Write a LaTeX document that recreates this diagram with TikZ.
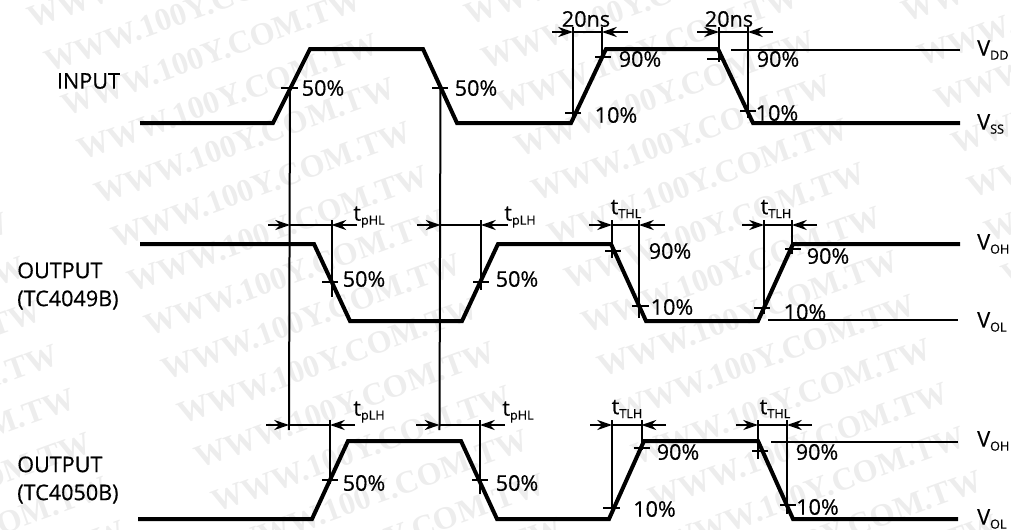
\documentclass[tikz,border=0pt]{standalone}
\usepackage{fontspec}
\setmainfont{Open Sans}[FakeBold=0.5]
\newfontfamily\markfont{Liberation Serif}
\usetikzlibrary{arrows.meta}
\newcommand\se[1]{\raisebox{-3pt}{\fontsize{9.5}{10}\selectfont #1}}
\tikzset{
  wave/.style={line width=3pt, line join=miter},
  thinline/.style={line width=1.5pt},
  drop/.style={line width=1.5pt, shorten <=-3.75pt},
  dimarrow/.style={line width=1.5pt, -{Stealth[length=11pt,width=7.5pt,inset=3.5pt]}},
  tickmark/.style={fill=black, inner sep=0pt, minimum width=12.5pt, minimum height=1.5pt},
  lab/.style={inner sep=0pt, font=\fontsize{16.2}{21}\selectfont, align=left},
  stamp/.style={inner sep=0pt, rotate=20, text=black!7, font=\markfont\bfseries\fontsize{24}{24}\selectfont}
}
\begin{document}
\begin{tikzpicture}[x=0.75pt, y=-0.75pt]
\useasboundingbox (0,0) rectangle (1011,529);
\clip (0,0) rectangle (1011,529);
\foreach \i in {-8,...,13}
  \foreach \j in {-1,...,2}
    \node[stamp] (s\i\j) at ({228+\i*16.7+\j*420},{97+\i*44-\j*47}) {WWW.100Y.COM.TW};

\draw [wave] (140,123) -- (273,123) -- (310,49) -- (423,49) -- (457,123) -- (571,123) -- (606,49) -- (718,49) -- (753,123) -- (960,123);
\draw [wave] (140,244) -- (314,244) -- (350,321) -- (462,321) -- (498,244) -- (611,244) -- (646,321) -- (758,321) -- (793,244) -- (960,244);
\draw [wave] (138,519) -- (312,519) -- (348,441) -- (461,441) -- (497,519) -- (609,519) -- (644,441) -- (758,441) -- (793,519) -- (958,519);

\path (731,50) coordinate (vdd1) (960,50) coordinate (vdd2);
\path (768,320) coordinate (vol1) (958,320) coordinate (vol2);
\path (771,442) coordinate (voh1) (958,442) coordinate (voh2);
\draw [thinline] (vdd1) -- (vdd2);
\draw [thinline] (vol1) -- (vol2);
\draw [thinline] (voh1) -- (voh2);

\path (290,88) coordinate (m1) (440.5,88) coordinate (m2) (289,425) coordinate (m3) (439.5,425) coordinate (m4) (290,225) coordinate (m5) (440.5,225) coordinate (m6);
\draw [drop] (m3) -- (m1);
\draw [drop] (m4) -- (m2);

\path (552,32) coordinate (a1) (573,32) coordinate (a2) (602,32) coordinate (a3) (628,32) coordinate (a4) (573,118) coordinate (a5) (602,57) coordinate (a6);
\draw [dimarrow] (a1) -- (a2);
\draw [dimarrow] (a4) -- (a3);
\draw [thinline] (a2) -- (a3);
\draw [drop] (a2) -- (a5);
\draw [drop] (a3) -- (a6);
\path (697,32) coordinate (b1) (719,32) coordinate (b2) (748,32) coordinate (b3) (773,32) coordinate (b4) (719,62) coordinate (b5) (748,118) coordinate (b6);
\draw [dimarrow] (b1) -- (b2);
\draw [dimarrow] (b4) -- (b3);
\draw [thinline] (b2) -- (b3);
\draw [drop] (b2) -- (b5);
\draw [drop] (b3) -- (b6);

\path (268,225) coordinate (c1) (357,225) coordinate (c2) (331.5,225) coordinate (c3) (331.5,297) coordinate (c4);
\draw [dimarrow] (c1) -- (m5);
\draw [dimarrow] (c2) -- (c3);
\draw [thinline] (m5) -- (c3);
\draw [drop] (c3) -- (c4);
\path (417,225) coordinate (d1) (508,225) coordinate (d2) (481,225) coordinate (d3) (481,290) coordinate (d4);
\draw [dimarrow] (d1) -- (m6);
\draw [dimarrow] (d2) -- (d3);
\draw [thinline] (m6) -- (d3);
\draw [drop] (d3) -- (d4);
\path (589,225) coordinate (e1) (612,225) coordinate (e2) (639,225) coordinate (e3) (665,225) coordinate (e4) (612,258) coordinate (e5) (639,318) coordinate (e6);
\draw [dimarrow] (e1) -- (e2);
\draw [dimarrow] (e4) -- (e3);
\draw [thinline] (e2) -- (e3);
\draw [drop] (e2) -- (e5);
\draw [drop] (e3) -- (e6);
\path (742,225) coordinate (f1) (764,225) coordinate (f2) (792,225) coordinate (f3) (817,225) coordinate (f4) (764,314) coordinate (f5) (792,254) coordinate (f6);
\draw [dimarrow] (f1) -- (f2);
\draw [dimarrow] (f4) -- (f3);
\draw [thinline] (f2) -- (f3);
\draw [drop] (f2) -- (f5);
\draw [drop] (f3) -- (f6);

\path (266,425) coordinate (g1) (355,425) coordinate (g2) (330,425) coordinate (g3) (330,484) coordinate (g4);
\draw [dimarrow] (g1) -- (m3);
\draw [dimarrow] (g2) -- (g3);
\draw [thinline] (m3) -- (g3);
\draw [drop] (g3) -- (g4);
\path (416,425) coordinate (h1) (505,425) coordinate (h2) (480,425) coordinate (h3) (480,494) coordinate (h4);
\draw [dimarrow] (h1) -- (m4);
\draw [dimarrow] (h2) -- (h3);
\draw [thinline] (m4) -- (h3);
\draw [drop] (h3) -- (h4);
\path (590,425) coordinate (i1) (612,425) coordinate (i2) (641.5,425) coordinate (i3) (666,425) coordinate (i4) (612,514) coordinate (i5) (641.5,450) coordinate (i6);
\draw [dimarrow] (i1) -- (i2);
\draw [dimarrow] (i4) -- (i3);
\draw [thinline] (i2) -- (i3);
\draw [drop] (i2) -- (i5);
\draw [drop] (i3) -- (i6);
\path (736,425) coordinate (j1) (758,425) coordinate (j2) (787,425) coordinate (j3) (812,425) coordinate (j4) (758,459) coordinate (j5) (787,514) coordinate (j6);
\draw [dimarrow] (j1) -- (j2);
\draw [dimarrow] (j4) -- (j3);
\draw [thinline] (j2) -- (j3);
\draw [drop] (j2) -- (j5);
\draw [drop] (j3) -- (j6);

\node[tickmark] (k1) at (289.5,88) {};
\node[tickmark] (k2) at (440,88) {};
\node[tickmark] (k3) at (603,57) {};
\node[tickmark] (k4) at (573,113) {};
\node[tickmark] (k5) at (715,59) {};
\node[tickmark] (k6) at (748,111) {};
\node[tickmark] (k7) at (330,282) {};
\node[tickmark] (k8) at (481,282) {};
\node[tickmark] (k9) at (613,251) {};
\node[tickmark] (k10) at (640.5,306) {};
\node[tickmark] (k11) at (793,249) {};
\node[tickmark] (k12) at (762,308) {};
\node[tickmark] (k13) at (330,480) {};
\node[tickmark] (k14) at (480,480) {};
\node[tickmark] (k15) at (642,448) {};
\node[tickmark] (k16) at (611.5,508) {};
\node[tickmark] (k17) at (760,451) {};
\node[tickmark] (k18) at (788,505) {};

\node[lab] (input) at (88.5,81) {INPUT};
\node[lab, anchor=west] (out1) at (17,286) {OUTPUT\\(TC4049B)};
\node[lab, anchor=west] (out2) at (17,480) {OUTPUT\\(TC4050B)};

\node[lab] (p1) at (323,88) {50\%};
\node[lab] (p2) at (476,88) {50\%};
\node[lab] (p3) at (640,59) {90\%};
\node[lab] (p4) at (616,115) {10\%};
\node[lab] (p5) at (778,59) {90\%};
\node[lab] (p6) at (777,113) {10\%};
\node[lab] (p7) at (364,279) {50\%};
\node[lab] (p8) at (517,279) {50\%};
\node[lab] (p9) at (670,251) {90\%};
\node[lab] (p10) at (672,307) {10\%};
\node[lab] (p11) at (828,256) {90\%};
\node[lab] (p12) at (805,312) {10\%};
\node[lab] (p13) at (364,483) {50\%};
\node[lab] (p14) at (517,483) {50\%};
\node[lab] (p15) at (678,452) {90\%};
\node[lab] (p16) at (817,452) {90\%};
\node[lab] (p17) at (654.5,509) {10\%};
\node[lab] (p18) at (817.5,507) {10\%};

\node[lab] (ns1) at (586,19) {20ns};
\node[lab] (ns2) at (729,19) {20ns};

\node[lab] (t1) at (369,217) {t\se{pHL}};
\node[lab] (t2) at (520,217) {t\se{pLH}};
\node[lab] (t3) at (626,209) {t\se{THL}};
\node[lab] (t4) at (776,209) {t\se{TLH}};
\node[lab] (t5) at (369,412) {t\se{pLH}};
\node[lab] (t6) at (518,412) {t\se{pHL}};
\node[lab] (t7) at (627,409) {t\se{TLH}};
\node[lab] (t8) at (775,409) {t\se{THL}};

\node[lab, anchor=west] (v1) at (977,50) {V\se{DD}};
\node[lab, anchor=west] (v2) at (977,124) {V\se{SS}};
\node[lab, anchor=west] (v3) at (977,244) {V\se{OH}};
\node[lab, anchor=west] (v4) at (977,322) {V\se{OL}};
\node[lab, anchor=west] (v5) at (977,441) {V\se{OH}};
\node[lab, anchor=west] (v6) at (977,519) {V\se{OL}};
\end{tikzpicture}
\end{document}
